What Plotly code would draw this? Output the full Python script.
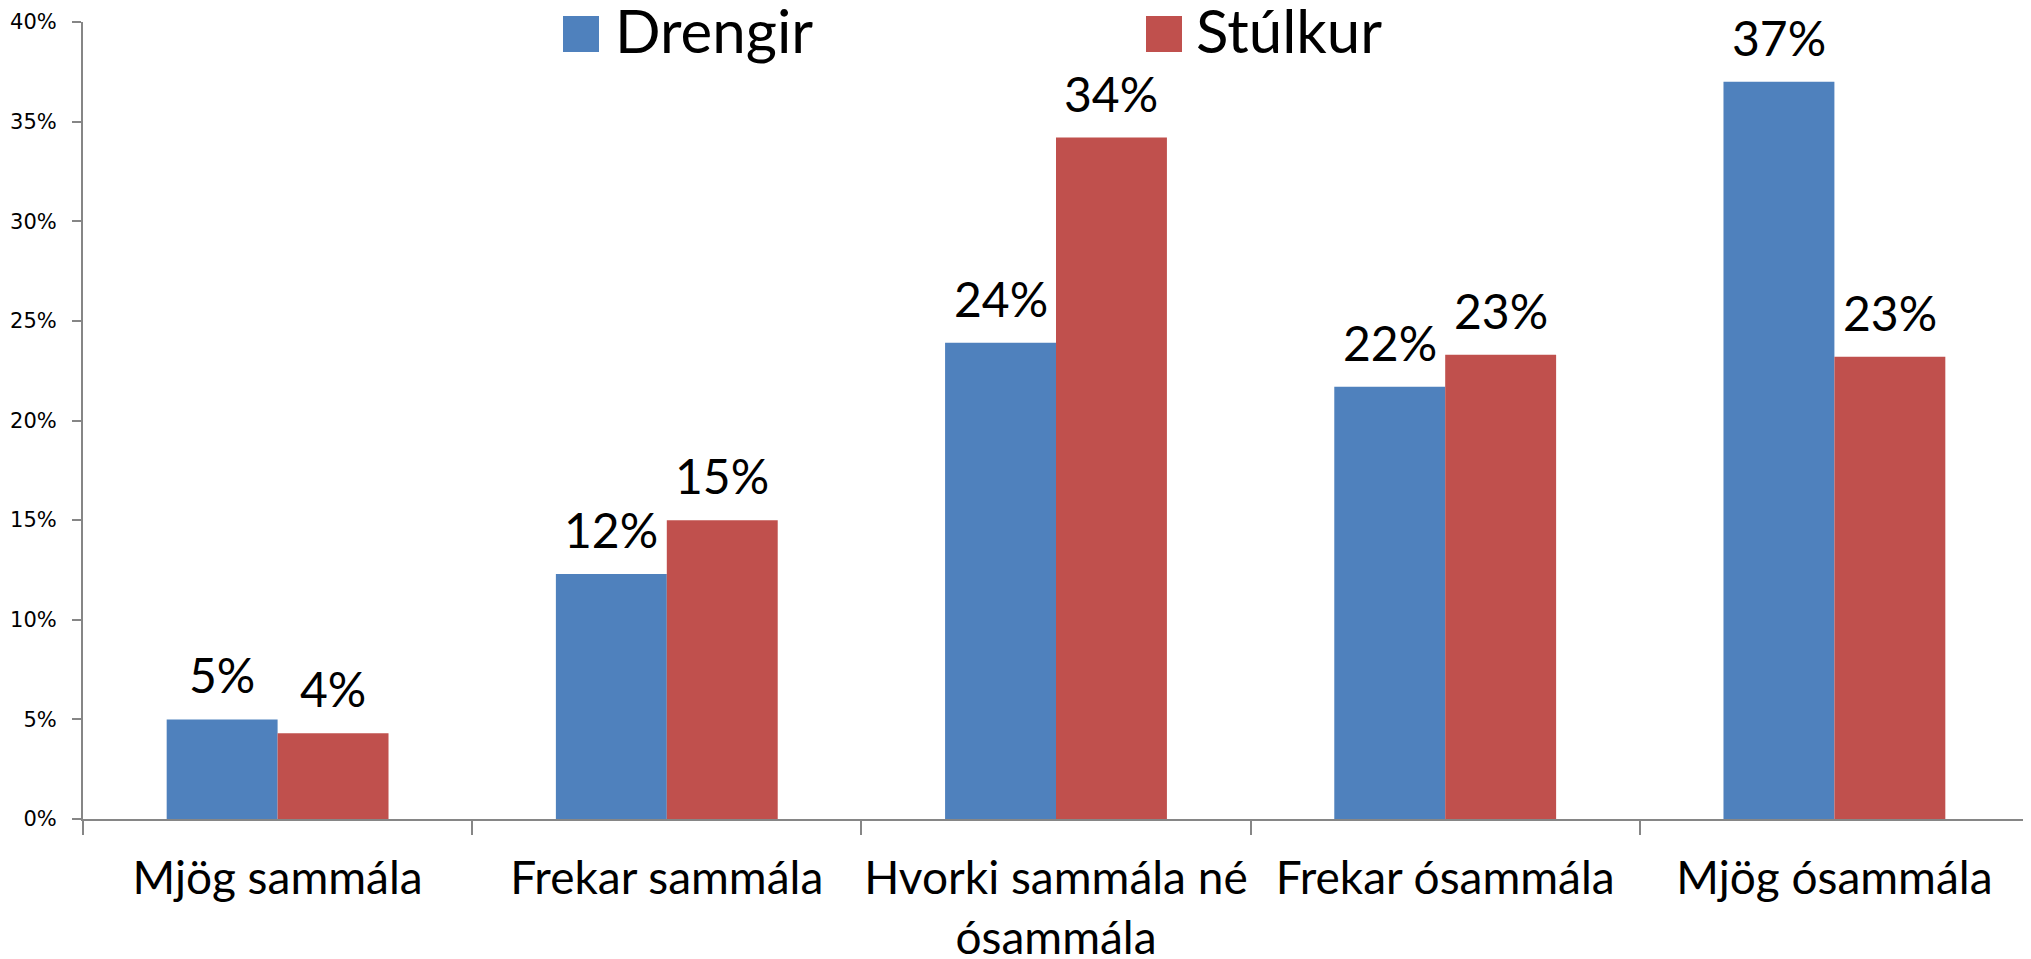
import plotly.graph_objects as go

categories = ["Mjög sammála", "Frekar sammála", "Hvorki sammála né<br>ósammála",
              "Frekar ósammála", "Mjög ósammála"]
drengir = [0.050, 0.123, 0.239, 0.217, 0.370]
stulkur = [0.043, 0.150, 0.342, 0.233, 0.232]
series_names = ["Drengir", "Stúlkur"]
colors = ["#4F81BD", "#C0504D"]
ytick_vals = [0, 0.05, 0.10, 0.15, 0.20, 0.25, 0.30, 0.35, 0.40]

# the page body has an 8px margin; compensate so the plot lands where the reference has it
OFF = 8
W, H = 2031 - OFF, 959 - OFF
ML, MR, MT, MB = 83 - OFF, 2, 22 - OFF, 140
PW = W - ML - MR
PH = H - MT - MB
BARGAP = 0.43
bar_w_px = PW / len(categories) * (1 - BARGAP) / 2

fig = go.Figure()
for name, vals, col in zip(series_names, [drengir, stulkur], colors):
    fig.add_trace(go.Bar(x=categories, y=vals, name=name, marker_color=col,
                         marker_line_width=0, showlegend=False))

# data labels
for si, vals in enumerate([drengir, stulkur]):
    shift = (-0.5 if si == 0 else 0.5) * bar_w_px
    for c, v in zip(categories, vals):
        fig.add_annotation(x=c, y=v, xref="x", yref="y", text=f"{v:.0%}",
                           showarrow=False, xshift=shift, yshift=14,
                           yanchor="bottom", xanchor="center",
                           font=dict(family="Lato", size=48, color="#000000"))


def px_x(p):
    return (p - OFF - ML) / PW


def px_y(p):
    return (H - MB - (p - OFF)) / PH


# legend (manual, large squares)
legend_items = [(563, 613), (1146, 1194)]
for (sq_x, tx_x), name, col in zip(legend_items, series_names, colors):
    fig.add_shape(type="rect", xref="paper", yref="paper",
                  x0=px_x(sq_x), x1=px_x(sq_x + 36), y0=px_y(52), y1=px_y(16),
                  fillcolor=col, line_width=0)
    fig.add_annotation(xref="paper", yref="paper", x=px_x(tx_x), y=px_y(30),
                       text=name, showarrow=False, xanchor="left", yanchor="middle",
                       font=dict(family="Lato", size=60, color="#000000"))

fig.update_layout(
    width=W, height=H,
    margin=dict(l=ML, r=MR, t=MT, b=MB, pad=0, autoexpand=False),
    paper_bgcolor="white", plot_bgcolor="white",
    barmode="group", bargap=BARGAP, bargroupgap=0,
    showlegend=False,
)
fig.update_xaxes(
    showline=True, linecolor="#868686", linewidth=2,
    ticks="outside", tickson="boundaries", ticklen=14, tickcolor="#868686", tickwidth=1.5,
    tickfont=dict(family="Lato", size=46, color="#000000"), tickangle=0,
    showgrid=False, ticklabelstandoff=18, automargin=False,
)
fig.update_yaxes(
    range=[0, 0.40], tickvals=ytick_vals, tickformat=".0%",
    showline=True, linecolor="#868686", linewidth=2,
    ticks="outside", ticklen=9, tickcolor="#868686", tickwidth=1.5,
    tickfont=dict(family="DejaVu Sans", size=21, color="#000000"),
    showgrid=False, zeroline=False, ticklabelstandoff=11, automargin=False,
)

fig.write_html("out.html")
